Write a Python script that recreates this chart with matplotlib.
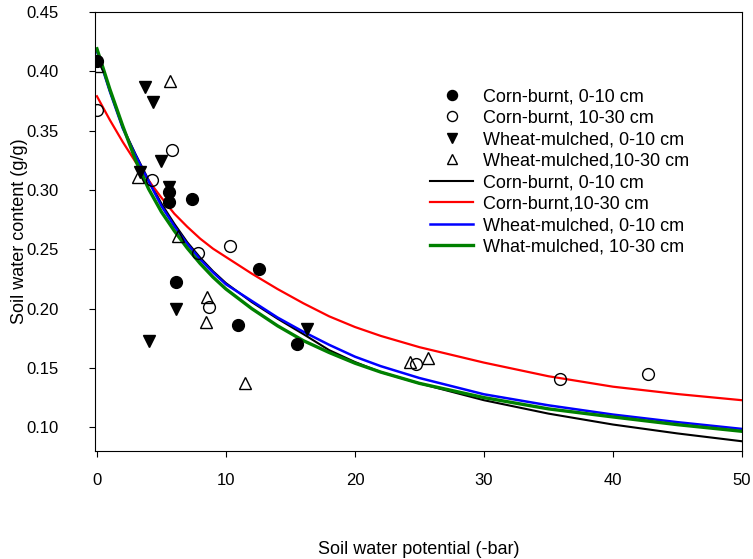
import numpy as np
import matplotlib
matplotlib.use("Agg")
import matplotlib.pyplot as plt

plt.rcParams['font.family'] = ['Liberation Sans', 'DejaVu Sans']

# measured points (soil water potential in -bar, soil water content g/g)
cb_top_x = [0.0, 5.6, 5.6, 7.4, 6.1, 12.6, 10.9, 15.5]
cb_top_y = [0.409, 0.2985, 0.290, 0.292, 0.2226, 0.233, 0.186, 0.170]

cb_sub_x = [0.0, 5.8, 4.3, 7.85, 10.3, 8.7, 24.7, 35.9, 42.7]
cb_sub_y = [0.367, 0.334, 0.308, 0.2465, 0.2527, 0.2015, 0.153, 0.1408, 0.145]

wm_top_x = [3.7, 4.35, 5.0, 5.6, 6.1, 4.0, 16.25, 3.3]
wm_top_y = [0.387, 0.374, 0.3246, 0.3027, 0.1995, 0.1726, 0.1825, 0.3153]

wm_sub_x = [0.0, 5.7, 3.2, 6.3, 8.5, 8.45, 11.5, 24.26, 25.7]
wm_sub_y = [0.4045, 0.3918, 0.311, 0.261, 0.210, 0.1888, 0.137, 0.155, 0.1588]

curve_x = [0, 1, 2, 3, 4, 5, 6, 7, 8, 9, 10, 12, 14, 16, 18, 20, 22, 25, 30, 35, 40, 45, 50]
black_y = [0.418, 0.384, 0.353, 0.330, 0.3085, 0.2885, 0.2715, 0.256, 0.243, 0.2315, 0.2215,
           0.2055, 0.1915, 0.1785, 0.165, 0.155, 0.1465, 0.137, 0.1228, 0.1115, 0.1023, 0.0948, 0.0882]
red_y = [0.379, 0.359, 0.3405, 0.3235, 0.308, 0.2935, 0.280, 0.269, 0.259, 0.2505, 0.2435,
         0.2295, 0.2165, 0.2045, 0.1935, 0.1845, 0.177, 0.1675, 0.1545, 0.1430, 0.1342, 0.1280, 0.1228]
blue_y = [0.417, 0.383, 0.352, 0.329, 0.3075, 0.2865, 0.2695, 0.2545, 0.2415, 0.2305, 0.2205,
          0.2065, 0.1925, 0.1805, 0.1695, 0.1595, 0.1515, 0.1415, 0.1278, 0.1185, 0.1107, 0.1043, 0.0986]
green_y = [0.419, 0.385, 0.354, 0.325, 0.301, 0.2815, 0.2655, 0.251, 0.238, 0.2265, 0.2165,
           0.200, 0.1855, 0.173, 0.163, 0.154, 0.1465, 0.137, 0.125, 0.1155, 0.1087, 0.1022, 0.0966]

fig = plt.figure(figsize=(7.53, 5.59), dpi=100)
ax = fig.add_axes([95 / 753, 1 - 451 / 559, 647 / 753, 439 / 559])

ms = 8.5
ax.plot(cb_top_x, cb_top_y, 'o', color='black', ms=ms, label='Corn-burnt, 0-10 cm', zorder=3)
ax.plot(cb_sub_x, cb_sub_y, 'o', mfc='none', mec='black', mew=1.0, ms=ms,
        label='Corn-burnt, 10-30 cm', zorder=3)
ax.plot(wm_top_x, wm_top_y, 'v', color='black', ms=ms, label='Wheat-mulched, 0-10 cm', zorder=3)
ax.plot(wm_sub_x, wm_sub_y, '^', mfc='none', mec='black', mew=1.0, ms=ms,
        label='Wheat-mulched,10-30 cm', zorder=3)

ax.plot(curve_x, black_y, color='black', lw=1.5, label='Corn-burnt, 0-10 cm')
ax.plot(curve_x, red_y, color='#ff0000', lw=1.6, label='Corn-burnt,10-30 cm')
ax.plot(curve_x, blue_y, color='#0000ff', lw=1.8, label='Wheat-mulched, 0-10 cm')
ax.plot(curve_x, green_y, color='#008000', lw=2.4, label='What-mulched, 10-30 cm')

ax.set_xlim(-0.15, 50)
ax.set_ylim(0.08, 0.45)
ax.set_xticks([0, 10, 20, 30, 40, 50])
ax.set_yticks(np.arange(0.10, 0.451, 0.05))
ax.set_yticklabels(['%.2f' % v for v in np.arange(0.10, 0.451, 0.05)])
ax.tick_params(direction='out', length=4, width=0.8, labelsize=12)
ax.tick_params(axis='x', pad=12)
ax.tick_params(axis='y', pad=22)

for s in ax.spines.values():
    s.set_linewidth(0.8)

ax.set_xlabel('Soil water potential (-bar)', fontsize=13)
ax.set_ylabel('Soil water content (g/g)', fontsize=13)
ax.xaxis.set_label_coords(0.5, -0.205)
ax.yaxis.set_label_coords(-0.103, 0.5)

ax.legend(loc='upper left', bbox_to_anchor=(430 / 753, 1 - 88 / 559),
          bbox_transform=fig.transFigure, frameon=False, fontsize=13,
          borderpad=0, borderaxespad=0, labelspacing=0.25, handlelength=2.4,
          handletextpad=0.55, markerscale=0.85)

fig.savefig('out.png', dpi=100)
